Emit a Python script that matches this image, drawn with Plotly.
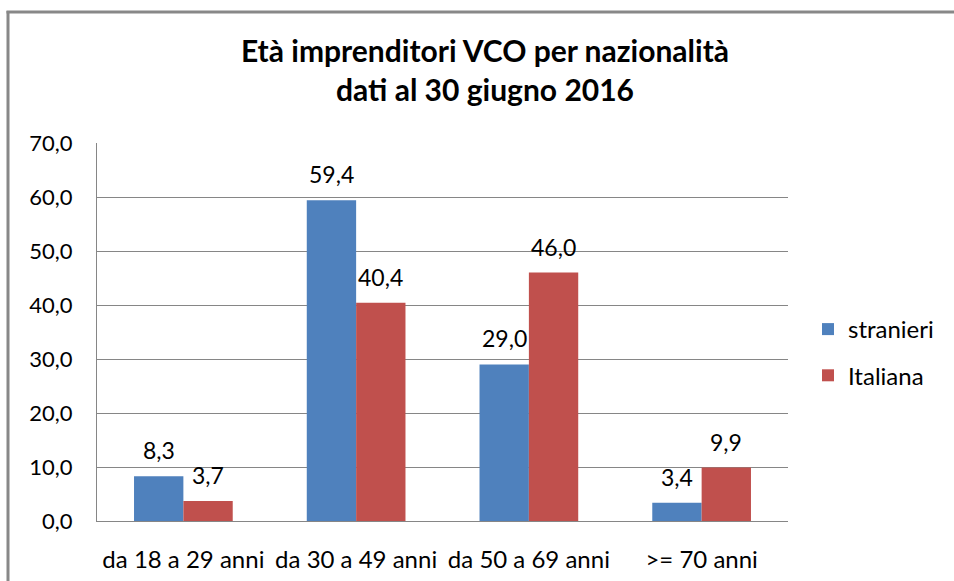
import plotly.graph_objects as go

categories = ["da 18 a 29 anni", "da 30 a 49 anni", "da 50 a 69 anni", ">= 70 anni"]
stranieri = [8.3, 59.4, 29.0, 3.4]
italiana = [3.7, 40.4, 46.0, 9.9]
series_names = ["stranieri", "Italiana"]
y_ticks = [0, 10, 20, 30, 40, 50, 60, 70]

W, H = 954, 581
L, R, T, B = 97, 166, 143, 60
FONT = "Lato"
colors = ["#4F81BD", "#C0504D"]

fig = go.Figure()
for name, vals, col in zip(series_names, [stranieri, italiana], colors):
    fig.add_trace(go.Bar(x=categories, y=vals, name=name, legendgroup=name,
                         marker=dict(color=col, line=dict(width=0))))

# data labels above bars
plot_w = W - L - R
plot_h = H - T - B
cat_w = plot_w / len(categories)
bar_w = cat_w / 3.5
annotations = []
for i, vals in enumerate([stranieri, italiana]):
    shift = (-0.5 if i == 0 else 0.5) * bar_w
    for c, v in zip(categories, vals):
        annotations.append(dict(x=c, y=v, xref="x", yref="y", text=f"{v:.1f}".replace(".", ","),
                                showarrow=False, xshift=shift, yshift=26,
                                font=dict(family=FONT, size=23, color="#000")))

def px_x(p):
    return (p - L) / plot_w
def px_y(p):
    return 1 - (p - T) / plot_h

shapes = [
    dict(type="line", xref="paper", yref="paper", x0=px_x(8), x1=px_x(8), y0=px_y(11), y1=px_y(H + 5),
         line=dict(color="#888888", width=3)),
    dict(type="line", xref="paper", yref="paper", x0=px_x(6.5), x1=px_x(W + 5), y0=px_y(12), y1=px_y(12),
         line=dict(color="#888888", width=3)),
]

fig.update_layout(
    width=W, height=H, autosize=False,
    margin=dict(l=L, r=R, t=T, b=B, autoexpand=False),
    paper_bgcolor="white", plot_bgcolor="white",
    separators=",.",
    barmode="group", bargap=1.5 / 3.5, bargroupgap=0,
    title=dict(text="<b>Età imprenditori VCO per nazionalità<br>dati al 30 giugno 2016</b>",
               x=485 / W, xanchor="center", y=1 - 62 / H, yanchor="top", yref="container",
               font=dict(family=FONT, size=30, color="#000")),
    font=dict(family=FONT, size=22, color="#000"),
    legend=dict(x=(808 - L) / plot_w, xanchor="left", y=px_y(307), yanchor="top",
                font=dict(family=FONT, size=24), tracegroupgap=12),
    xaxis=dict(showgrid=False, showline=True, linecolor="#868686", linewidth=1, automargin=False,
               ticks="outside", ticklen=17, tickcolor="rgba(0,0,0,0)",
               tickfont=dict(family=FONT, size=24)),
    yaxis=dict(range=[0, 70], tickvals=y_ticks, tickformat=".1f", showgrid=True, gridcolor="#868686",
               gridwidth=1, showline=True, linecolor="#868686", linewidth=1, zeroline=False,
               automargin=False, ticks="outside", ticklen=19, tickcolor="rgba(0,0,0,0)",
               tickfont=dict(family=FONT, size=22)),
    annotations=annotations, shapes=shapes,
)

fig.write_html("out.html", config={"displayModeBar": False},
               post_script="document.body.style.margin='0px';")
